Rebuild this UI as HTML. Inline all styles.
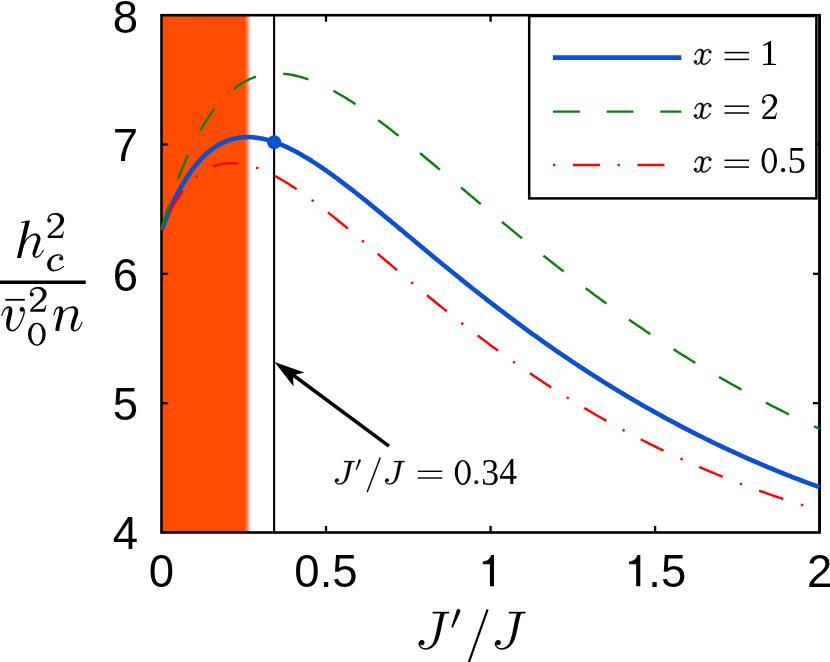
<!DOCTYPE html>
<html><head><meta charset="utf-8"><title>chart</title>
<style>
html,body{margin:0;padding:0;background:#fff;}
body{width:830px;height:662px;overflow:hidden;font-family:"Liberation Sans",sans-serif;}
svg{display:block;will-change:transform}
.ss{font-family:"Liberation Sans",sans-serif;font-size:45.5px;fill:#000}
.it{font-family:"Liberation Serif",serif;font-style:italic;fill:#000}
.rm{font-family:"Liberation Serif",serif;font-style:normal;fill:#000}
</style></head><body>
<svg width="830" height="662" viewBox="0 0 830 662">
<defs>
<linearGradient id="og" x1="0" x2="1" y1="0" y2="0">
<stop offset="0" stop-color="#ff4d00"/><stop offset="1" stop-color="#ff4d00" stop-opacity="0"/>
</linearGradient>
<clipPath id="cp"><rect x="160.4" y="15.2" width="660.4" height="517.3"/></clipPath>
</defs>
<rect width="830" height="662" fill="#fff"/>
<!-- shaded region -->
<rect x="161.5" y="15.2" width="84.1" height="517.3" fill="#ff4d00"/>
<rect x="245.4" y="15.2" width="5.4" height="517.3" fill="url(#og)"/>
<line x1="274.1" y1="15.2" x2="274.1" y2="532.5" stroke="#000" stroke-width="2.1"/>
<!-- axes -->
<g stroke="#000" stroke-width="2.3"><line x1="326.0" y1="532.5" x2="326.0" y2="525.9"/><line x1="326.0" y1="15.2" x2="326.0" y2="21.8"/><line x1="490.6" y1="532.5" x2="490.6" y2="525.9"/><line x1="490.6" y1="15.2" x2="490.6" y2="21.8"/><line x1="655.1" y1="532.5" x2="655.1" y2="525.9"/><line x1="655.1" y1="15.2" x2="655.1" y2="21.8"/><line x1="161.5" y1="403.2" x2="168.1" y2="403.2"/><line x1="819.6" y1="403.2" x2="813.0" y2="403.2"/><line x1="161.5" y1="273.8" x2="168.1" y2="273.8"/><line x1="819.6" y1="273.8" x2="813.0" y2="273.8"/><line x1="161.5" y1="144.5" x2="168.1" y2="144.5"/><line x1="819.6" y1="144.5" x2="813.0" y2="144.5"/></g>
<rect x="161.5" y="15.2" width="658.1" height="517.3" fill="none" stroke="#000" stroke-width="2.6"/>
<!-- legend -->
<rect x="529.2" y="16.0" width="287.2" height="182.4" fill="#fff" stroke="#000" stroke-width="2.5"/>
<line x1="819.6" y1="15.2" x2="819.6" y2="532.5" stroke="#000" stroke-width="2.6"/>
<line x1="552.9" y1="57.6" x2="681.4" y2="57.6" stroke="#0a50d2" stroke-width="4.7"/>
<line x1="552.9" y1="111.6" x2="681.4" y2="111.6" stroke="#0a800a" stroke-width="2.4" stroke-dasharray="27 26.7"/>
<line x1="553.0" y1="165.0" x2="681.4" y2="165.0" stroke="#ff0000" stroke-width="2.4" stroke-dasharray="2.4 17.6 27 17.5"/>
<!-- curves -->
<g fill="none" clip-path="url(#cp)">
<path d="M161.50,230.28 L161.53,230.19 L161.60,230.02 L161.68,229.79 L161.79,229.50 L161.92,229.17 L162.06,228.80 L162.21,228.38 L162.38,227.94 L162.57,227.46 L162.76,226.95 L162.97,226.40 L163.19,225.83 L163.42,225.24 L163.66,224.62 L163.92,223.97 L164.18,223.30 L164.45,222.61 L164.73,221.90 L165.03,221.17 L165.33,220.42 L165.64,219.65 L165.96,218.87 L166.29,218.07 L166.62,217.25 L166.97,216.42 L167.32,215.57 L167.69,214.71 L168.06,213.84 L168.44,212.95 L168.82,212.05 L169.22,211.15 L169.62,210.23 L170.03,209.30 L170.45,208.36 L170.87,207.42 L171.30,206.47 L171.74,205.50 L172.19,204.54 L172.64,203.57 L173.10,202.59 L173.57,201.60 L174.05,200.61 L174.53,199.62 L175.02,198.63 L175.51,197.63 L176.01,196.63 L176.52,195.62 L177.04,194.62 L177.56,193.61 L178.08,192.60 L178.62,191.60 L179.16,190.59 L179.70,189.58 L180.26,188.58 L180.82,187.58 L181.38,186.57 L181.95,185.57 L182.53,184.58 L183.11,183.58 L183.70,182.59 L184.30,181.61 L184.90,180.62 L185.50,179.65 L186.12,178.67 L186.73,177.71 L187.36,176.75 L187.99,175.79 L188.62,174.84 L189.26,173.90 L189.91,172.96 L190.56,172.03 L191.22,171.11 L191.88,170.20 L192.55,169.29 L193.23,168.40 L193.91,167.51 L194.59,166.63 L195.28,165.76 L195.98,164.90 L196.68,164.05 L197.38,163.21 L198.10,162.38 L198.81,161.56 L199.53,160.75 L200.26,159.95 L200.99,159.16 L201.73,158.39 L202.47,157.62 L203.22,156.87 L203.97,156.13 L204.73,155.40 L205.49,154.69 L206.26,153.98 L207.03,153.29 L207.81,152.61 L208.59,151.95 L209.38,151.30 L210.17,150.66 L210.97,150.03 L211.77,149.42 L212.58,148.82 L213.39,148.24 L214.21,147.67 L215.03,147.12 L215.85,146.57 L216.68,146.05 L217.52,145.54 L218.36,145.04 L219.20,144.55 L220.05,144.09 L220.91,143.63 L221.77,143.19 L222.63,142.77 L223.50,142.36 L224.37,141.97 L225.25,141.59 L226.13,141.22 L227.02,140.87 L227.91,140.54 L228.80,140.22 L229.70,139.92 L230.60,139.63 L231.51,139.36 L232.43,139.11 L233.34,138.87 L234.27,138.64 L235.19,138.43 L236.12,138.24 L237.06,138.06 L238.00,137.90 L238.94,137.75 L239.89,137.62 L240.84,137.50 L241.80,137.40 L242.76,137.32 L243.72,137.25 L244.69,137.19 L245.67,137.16 L246.64,137.13 L247.63,137.13 L248.61,137.13 L249.60,137.16 L250.60,137.19 L251.60,137.25 L252.60,137.32 L253.61,137.40 L254.62,137.50 L255.63,137.61 L256.65,137.74 L257.68,137.89 L258.71,138.05 L259.74,138.22 L260.77,138.41 L261.81,138.61 L262.86,138.83 L263.91,139.06 L264.96,139.31 L266.02,139.57 L267.08,139.85 L268.14,140.14 L269.21,140.44 L270.28,140.76 L271.36,141.09 L272.44,141.44 L273.52,141.80 L274.61,142.17 L275.70,142.56 L276.80,142.96 L277.90,143.38 L279.00,143.81 L280.11,144.25 L281.22,144.70 L282.34,145.17 L283.46,145.65 L284.58,146.14 L285.71,146.65 L286.84,147.17 L287.97,147.70 L289.11,148.24 L290.26,148.80 L291.40,149.37 L292.55,149.95 L293.71,150.54 L294.86,151.15 L296.03,151.76 L297.19,152.39 L298.36,153.03 L299.53,153.68 L300.71,154.35 L301.89,155.02 L303.07,155.71 L304.26,156.40 L305.45,157.11 L306.65,157.83 L307.85,158.56 L309.05,159.30 L310.26,160.05 L311.47,160.81 L312.68,161.58 L313.90,162.36 L315.12,163.15 L316.34,163.95 L317.57,164.76 L318.80,165.58 L320.04,166.41 L321.28,167.25 L322.52,168.10 L323.77,168.95 L325.02,169.82 L326.27,170.70 L327.53,171.58 L328.79,172.47 L330.05,173.37 L331.32,174.28 L332.59,175.20 L333.87,176.13 L335.15,177.06 L336.43,178.01 L337.71,178.96 L339.00,179.92 L340.30,180.88 L341.59,181.86 L342.89,182.84 L344.20,183.83 L345.50,184.82 L346.81,185.83 L348.13,186.84 L349.44,187.85 L350.76,188.88 L352.09,189.91 L353.42,190.94 L354.75,191.99 L356.08,193.04 L357.42,194.09 L358.76,195.16 L360.11,196.23 L361.45,197.30 L362.80,198.38 L364.16,199.47 L365.52,200.56 L366.88,201.65 L368.25,202.76 L369.61,203.86 L370.99,204.98 L372.36,206.09 L373.74,207.22 L375.12,208.35 L376.51,209.48 L377.90,210.62 L379.29,211.76 L380.68,212.90 L382.08,214.06 L383.49,215.21 L384.89,216.37 L386.30,217.53 L387.71,218.70 L389.13,219.87 L390.55,221.05 L391.97,222.23 L393.39,223.41 L394.82,224.60 L396.25,225.79 L397.69,226.98 L399.13,228.18 L400.57,229.38 L402.01,230.58 L403.46,231.78 L404.91,232.99 L406.37,234.20 L407.83,235.42 L409.29,236.64 L410.75,237.86 L412.22,239.08 L413.69,240.30 L415.17,241.53 L416.64,242.76 L418.12,243.99 L419.61,245.23 L421.10,246.46 L422.59,247.70 L424.08,248.94 L425.58,250.18 L427.08,251.42 L428.58,252.67 L430.09,253.92 L431.60,255.16 L433.11,256.41 L434.62,257.67 L436.14,258.92 L437.66,260.17 L439.19,261.43 L440.72,262.68 L442.25,263.94 L443.78,265.20 L445.32,266.46 L446.86,267.72 L448.41,268.98 L449.95,270.24 L451.50,271.50 L453.06,272.76 L454.61,274.03 L456.17,275.29 L457.74,276.56 L459.30,277.82 L460.87,279.09 L462.44,280.35 L464.02,281.62 L465.60,282.88 L467.18,284.15 L468.76,285.41 L470.35,286.68 L471.94,287.94 L473.53,289.21 L475.13,290.47 L476.73,291.74 L478.33,293.00 L479.94,294.27 L481.55,295.53 L483.16,296.79 L484.77,298.06 L486.39,299.32 L488.01,300.58 L489.64,301.84 L491.26,303.10 L492.89,304.36 L494.53,305.62 L496.16,306.88 L497.80,308.14 L499.44,309.39 L501.09,310.65 L502.74,311.90 L504.39,313.16 L506.04,314.41 L507.70,315.66 L509.36,316.91 L511.02,318.16 L512.69,319.41 L514.36,320.65 L516.03,321.90 L517.70,323.14 L519.38,324.38 L521.06,325.62 L522.74,326.86 L524.43,328.10 L526.12,329.34 L527.81,330.57 L529.51,331.80 L531.21,333.04 L532.91,334.26 L534.61,335.49 L536.32,336.72 L538.03,337.94 L539.74,339.17 L541.46,340.39 L543.18,341.60 L544.90,342.82 L546.62,344.04 L548.35,345.25 L550.08,346.46 L551.81,347.67 L553.55,348.88 L555.29,350.08 L557.03,351.28 L558.78,352.48 L560.52,353.68 L562.28,354.88 L564.03,356.07 L565.78,357.26 L567.54,358.45 L569.31,359.64 L571.07,360.83 L572.84,362.01 L574.61,363.19 L576.38,364.37 L578.16,365.54 L579.94,366.71 L581.72,367.88 L583.51,369.05 L585.29,370.22 L587.08,371.38 L588.88,372.54 L590.67,373.70 L592.47,374.85 L594.27,376.00 L596.08,377.15 L597.89,378.30 L599.70,379.45 L601.51,380.59 L603.33,381.73 L605.14,382.86 L606.97,384.00 L608.79,385.13 L610.62,386.25 L612.45,387.38 L614.28,388.50 L616.11,389.62 L617.95,390.74 L619.79,391.85 L621.64,392.96 L623.48,394.07 L625.33,395.17 L627.19,396.28 L629.04,397.38 L630.90,398.47 L632.76,399.56 L634.62,400.65 L636.49,401.74 L638.36,402.82 L640.23,403.91 L642.10,404.98 L643.98,406.06 L645.86,407.13 L647.74,408.20 L649.63,409.26 L651.51,410.33 L653.40,411.38 L655.30,412.44 L657.19,413.49 L659.09,414.54 L660.99,415.59 L662.90,416.63 L664.80,417.67 L666.71,418.71 L668.63,419.74 L670.54,420.77 L672.46,421.80 L674.38,422.82 L676.30,423.84 L678.23,424.86 L680.16,425.87 L682.09,426.88 L684.02,427.89 L685.96,428.89 L687.90,429.89 L689.84,430.89 L691.79,431.88 L693.73,432.87 L695.68,433.86 L697.64,434.84 L699.59,435.82 L701.55,436.80 L703.51,437.77 L705.47,438.74 L707.44,439.71 L709.41,440.67 L711.38,441.63 L713.35,442.59 L715.33,443.54 L717.31,444.49 L719.29,445.43 L721.27,446.37 L723.26,447.31 L725.25,448.24 L727.24,449.17 L729.24,450.10 L731.24,451.03 L733.24,451.95 L735.24,452.86 L737.25,453.77 L739.25,454.68 L741.27,455.59 L743.28,456.49 L745.30,457.39 L747.31,458.28 L749.34,459.17 L751.36,460.06 L753.39,460.95 L755.42,461.83 L757.45,462.70 L759.48,463.57 L761.52,464.44 L763.56,465.31 L765.60,466.17 L767.64,467.03 L769.69,467.88 L771.74,468.73 L773.79,469.58 L775.85,470.42 L777.91,471.26 L779.97,472.09 L782.03,472.92 L784.10,473.75 L786.16,474.58 L788.23,475.39 L790.31,476.21 L792.38,477.02 L794.46,477.83 L796.54,478.63 L798.63,479.44 L800.71,480.23 L802.80,481.02 L804.89,481.81 L806.98,482.60 L809.08,483.38 L811.18,484.16 L813.28,484.93 L815.38,485.70 L817.49,486.46 L819.60,487.22" stroke="#0a50d2" stroke-width="4.6" stroke-linejoin="round"/>
<path d="M161.50,229.33 L161.53,229.22 L161.60,229.00 L161.68,228.70 L161.79,228.33 L161.92,227.90 L162.06,227.42 L162.21,226.89 L162.38,226.31 L162.57,225.69 L162.76,225.03 L162.97,224.32 L163.19,223.59 L163.42,222.81 L163.66,222.00 L163.92,221.16 L164.18,220.29 L164.45,219.39 L164.73,218.47 L165.03,217.51 L165.33,216.53 L165.64,215.52 L165.96,214.49 L166.29,213.44 L166.62,212.36 L166.97,211.27 L167.32,210.15 L167.69,209.01 L168.06,207.85 L168.44,206.68 L168.82,205.49 L169.22,204.28 L169.62,203.06 L170.03,201.82 L170.45,200.56 L170.87,199.30 L171.30,198.02 L171.74,196.72 L172.19,195.42 L172.64,194.11 L173.10,192.78 L173.57,191.44 L174.05,190.10 L174.53,188.74 L175.02,187.38 L175.51,186.01 L176.01,184.64 L176.52,183.25 L177.04,181.87 L177.56,180.47 L178.08,179.07 L178.62,177.67 L179.16,176.26 L179.70,174.85 L180.26,173.44 L180.82,172.03 L181.38,170.61 L181.95,169.19 L182.53,167.77 L183.11,166.35 L183.70,164.93 L184.30,163.51 L184.90,162.09 L185.50,160.68 L186.12,159.26 L186.73,157.85 L187.36,156.44 L187.99,155.03 L188.62,153.63 L189.26,152.23 L189.91,150.83 L190.56,149.44 L191.22,148.06 L191.88,146.68 L192.55,145.30 L193.23,143.93 L193.91,142.57 L194.59,141.21 L195.28,139.86 L195.98,138.52 L196.68,137.19 L197.38,135.86 L198.10,134.54 L198.81,133.24 L199.53,131.94 L200.26,130.64 L200.99,129.36 L201.73,128.09 L202.47,126.83 L203.22,125.58 L203.97,124.34 L204.73,123.11 L205.49,121.89 L206.26,120.68 L207.03,119.49 L207.81,118.31 L208.59,117.13 L209.38,115.98 L210.17,114.83 L210.97,113.70 L211.77,112.57 L212.58,111.47 L213.39,110.37 L214.21,109.29 L215.03,108.22 L215.85,107.17 L216.68,106.13 L217.52,105.11 L218.36,104.10 L219.20,103.10 L220.05,102.12 L220.91,101.15 L221.77,100.20 L222.63,99.27 L223.50,98.35 L224.37,97.44 L225.25,96.55 L226.13,95.68 L227.02,94.82 L227.91,93.98 L228.80,93.15 L229.70,92.34 L230.60,91.55 L231.51,90.77 L232.43,90.01 L233.34,89.27 L234.27,88.54 L235.19,87.83 L236.12,87.13 L237.06,86.46 L238.00,85.79 L238.94,85.15 L239.89,84.52 L240.84,83.91 L241.80,83.32 L242.76,82.75 L243.72,82.19 L244.69,81.65 L245.67,81.12 L246.64,80.62 L247.63,80.13 L248.61,79.65 L249.60,79.20 L250.60,78.76 L251.60,78.34 L252.60,77.94 L253.61,77.55 L254.62,77.18 L255.63,76.83 L256.65,76.50 L257.68,76.18 L258.71,75.89 L259.74,75.60 L260.77,75.34 L261.81,75.09 L262.86,74.86 L263.91,74.65 L264.96,74.46 L266.02,74.28 L267.08,74.12 L268.14,73.97 L269.21,73.85 L270.28,73.74 L271.36,73.64 L272.44,73.57 L273.52,73.51 L274.61,73.47 L275.70,73.44 L276.80,73.43 L277.90,73.44 L279.00,73.46 L280.11,73.50 L281.22,73.56 L282.34,73.63 L283.46,73.72 L284.58,73.83 L285.71,73.95 L286.84,74.09 L287.97,74.25 L289.11,74.42 L290.26,74.60 L291.40,74.80 L292.55,75.02 L293.71,75.25 L294.86,75.50 L296.03,75.77 L297.19,76.05 L298.36,76.34 L299.53,76.65 L300.71,76.97 L301.89,77.31 L303.07,77.67 L304.26,78.04 L305.45,78.42 L306.65,78.82 L307.85,79.23 L309.05,79.66 L310.26,80.10 L311.47,80.56 L312.68,81.03 L313.90,81.51 L315.12,82.01 L316.34,82.52 L317.57,83.04 L318.80,83.58 L320.04,84.13 L321.28,84.70 L322.52,85.28 L323.77,85.87 L325.02,86.47 L326.27,87.09 L327.53,87.72 L328.79,88.36 L330.05,89.01 L331.32,89.68 L332.59,90.36 L333.87,91.05 L335.15,91.75 L336.43,92.47 L337.71,93.20 L339.00,93.94 L340.30,94.69 L341.59,95.45 L342.89,96.22 L344.20,97.00 L345.50,97.80 L346.81,98.61 L348.13,99.42 L349.44,100.25 L350.76,101.09 L352.09,101.94 L353.42,102.80 L354.75,103.67 L356.08,104.55 L357.42,105.44 L358.76,106.34 L360.11,107.25 L361.45,108.17 L362.80,109.10 L364.16,110.04 L365.52,110.98 L366.88,111.94 L368.25,112.91 L369.61,113.88 L370.99,114.87 L372.36,115.86 L373.74,116.86 L375.12,117.87 L376.51,118.89 L377.90,119.91 L379.29,120.95 L380.68,121.99 L382.08,123.04 L383.49,124.10 L384.89,125.17 L386.30,126.24 L387.71,127.32 L389.13,128.41 L390.55,129.51 L391.97,130.61 L393.39,131.72 L394.82,132.84 L396.25,133.96 L397.69,135.09 L399.13,136.23 L400.57,137.38 L402.01,138.53 L403.46,139.68 L404.91,140.85 L406.37,142.02 L407.83,143.19 L409.29,144.37 L410.75,145.56 L412.22,146.75 L413.69,147.95 L415.17,149.15 L416.64,150.36 L418.12,151.58 L419.61,152.80 L421.10,154.02 L422.59,155.25 L424.08,156.48 L425.58,157.72 L427.08,158.97 L428.58,160.22 L430.09,161.47 L431.60,162.73 L433.11,163.99 L434.62,165.25 L436.14,166.52 L437.66,167.80 L439.19,169.08 L440.72,170.36 L442.25,171.64 L443.78,172.93 L445.32,174.23 L446.86,175.52 L448.41,176.82 L449.95,178.13 L451.50,179.43 L453.06,180.74 L454.61,182.05 L456.17,183.37 L457.74,184.69 L459.30,186.01 L460.87,187.33 L462.44,188.66 L464.02,189.99 L465.60,191.32 L467.18,192.66 L468.76,193.99 L470.35,195.33 L471.94,196.67 L473.53,198.01 L475.13,199.36 L476.73,200.71 L478.33,202.06 L479.94,203.41 L481.55,204.76 L483.16,206.11 L484.77,207.47 L486.39,208.83 L488.01,210.18 L489.64,211.54 L491.26,212.91 L492.89,214.27 L494.53,215.63 L496.16,217.00 L497.80,218.36 L499.44,219.73 L501.09,221.10 L502.74,222.46 L504.39,223.83 L506.04,225.20 L507.70,226.57 L509.36,227.94 L511.02,229.32 L512.69,230.69 L514.36,232.06 L516.03,233.43 L517.70,234.81 L519.38,236.18 L521.06,237.55 L522.74,238.93 L524.43,240.30 L526.12,241.67 L527.81,243.05 L529.51,244.42 L531.21,245.79 L532.91,247.16 L534.61,248.54 L536.32,249.91 L538.03,251.28 L539.74,252.65 L541.46,254.02 L543.18,255.39 L544.90,256.76 L546.62,258.13 L548.35,259.50 L550.08,260.86 L551.81,262.23 L553.55,263.60 L555.29,264.96 L557.03,266.33 L558.78,267.69 L560.52,269.05 L562.28,270.41 L564.03,271.77 L565.78,273.13 L567.54,274.48 L569.31,275.84 L571.07,277.19 L572.84,278.55 L574.61,279.90 L576.38,281.25 L578.16,282.60 L579.94,283.95 L581.72,285.29 L583.51,286.63 L585.29,287.98 L587.08,289.32 L588.88,290.66 L590.67,291.99 L592.47,293.33 L594.27,294.66 L596.08,295.99 L597.89,297.32 L599.70,298.65 L601.51,299.98 L603.33,301.30 L605.14,302.62 L606.97,303.94 L608.79,305.26 L610.62,306.58 L612.45,307.89 L614.28,309.20 L616.11,310.51 L617.95,311.82 L619.79,313.12 L621.64,314.42 L623.48,315.72 L625.33,317.02 L627.19,318.31 L629.04,319.61 L630.90,320.90 L632.76,322.18 L634.62,323.47 L636.49,324.75 L638.36,326.03 L640.23,327.31 L642.10,328.58 L643.98,329.85 L645.86,331.12 L647.74,332.39 L649.63,333.65 L651.51,334.91 L653.40,336.17 L655.30,337.42 L657.19,338.68 L659.09,339.92 L660.99,341.17 L662.90,342.41 L664.80,343.65 L666.71,344.89 L668.63,346.13 L670.54,347.36 L672.46,348.59 L674.38,349.81 L676.30,351.03 L678.23,352.25 L680.16,353.47 L682.09,354.68 L684.02,355.89 L685.96,357.10 L687.90,358.30 L689.84,359.50 L691.79,360.70 L693.73,361.89 L695.68,363.08 L697.64,364.27 L699.59,365.45 L701.55,366.63 L703.51,367.81 L705.47,368.98 L707.44,370.15 L709.41,371.32 L711.38,372.48 L713.35,373.64 L715.33,374.80 L717.31,375.95 L719.29,377.10 L721.27,378.24 L723.26,379.39 L725.25,380.53 L727.24,381.66 L729.24,382.79 L731.24,383.92 L733.24,385.05 L735.24,386.17 L737.25,387.28 L739.25,388.40 L741.27,389.51 L743.28,390.61 L745.30,391.72 L747.31,392.81 L749.34,393.91 L751.36,395.00 L753.39,396.09 L755.42,397.17 L757.45,398.25 L759.48,399.33 L761.52,400.40 L763.56,401.47 L765.60,402.53 L767.64,403.60 L769.69,404.65 L771.74,405.71 L773.79,406.76 L775.85,407.80 L777.91,408.84 L779.97,409.88 L782.03,410.91 L784.10,411.95 L786.16,412.97 L788.23,413.99 L790.31,415.01 L792.38,416.03 L794.46,417.04 L796.54,418.04 L798.63,419.04 L800.71,420.04 L802.80,421.04 L804.89,422.03 L806.98,423.01 L809.08,424.00 L811.18,424.97 L813.28,425.95 L815.38,426.92 L817.49,427.88 L819.60,428.85" stroke="#0a800a" stroke-width="2.4" stroke-dasharray="25.8 27.63" stroke-dashoffset="0.5"/>
<path d="M161.50,228.92 L161.53,228.85 L161.60,228.70 L161.68,228.50 L161.79,228.26 L161.92,227.97 L162.06,227.66 L162.21,227.31 L162.38,226.93 L162.57,226.52 L162.76,226.08 L162.97,225.62 L163.19,225.14 L163.42,224.64 L163.66,224.11 L163.92,223.57 L164.18,223.00 L164.45,222.42 L164.73,221.82 L165.03,221.21 L165.33,220.58 L165.64,219.93 L165.96,219.28 L166.29,218.60 L166.62,217.92 L166.97,217.23 L167.32,216.52 L167.69,215.80 L168.06,215.08 L168.44,214.35 L168.82,213.60 L169.22,212.85 L169.62,212.10 L170.03,211.33 L170.45,210.56 L170.87,209.79 L171.30,209.01 L171.74,208.22 L172.19,207.43 L172.64,206.64 L173.10,205.85 L173.57,205.05 L174.05,204.25 L174.53,203.45 L175.02,202.65 L175.51,201.85 L176.01,201.05 L176.52,200.25 L177.04,199.45 L177.56,198.65 L178.08,197.85 L178.62,197.05 L179.16,196.26 L179.70,195.47 L180.26,194.69 L180.82,193.90 L181.38,193.12 L181.95,192.35 L182.53,191.58 L183.11,190.81 L183.70,190.05 L184.30,189.30 L184.90,188.55 L185.50,187.81 L186.12,187.07 L186.73,186.35 L187.36,185.63 L187.99,184.91 L188.62,184.21 L189.26,183.51 L189.91,182.82 L190.56,182.14 L191.22,181.47 L191.88,180.81 L192.55,180.15 L193.23,179.51 L193.91,178.88 L194.59,178.25 L195.28,177.64 L195.98,177.04 L196.68,176.45 L197.38,175.87 L198.10,175.30 L198.81,174.74 L199.53,174.19 L200.26,173.66 L200.99,173.13 L201.73,172.62 L202.47,172.12 L203.22,171.64 L203.97,171.16 L204.73,170.70 L205.49,170.25 L206.26,169.82 L207.03,169.39 L207.81,168.98 L208.59,168.59 L209.38,168.20 L210.17,167.83 L210.97,167.48 L211.77,167.13 L212.58,166.80 L213.39,166.49 L214.21,166.19 L215.03,165.90 L215.85,165.63 L216.68,165.37 L217.52,165.12 L218.36,164.89 L219.20,164.68 L220.05,164.47 L220.91,164.29 L221.77,164.11 L222.63,163.95 L223.50,163.81 L224.37,163.68 L225.25,163.56 L226.13,163.46 L227.02,163.38 L227.91,163.31 L228.80,163.25 L229.70,163.21 L230.60,163.18 L231.51,163.16 L232.43,163.16 L233.34,163.18 L234.27,163.21 L235.19,163.26 L236.12,163.31 L237.06,163.39 L238.00,163.48 L238.94,163.58 L239.89,163.70 L240.84,163.83 L241.80,163.97 L242.76,164.13 L243.72,164.31 L244.69,164.50 L245.67,164.70 L246.64,164.92 L247.63,165.15 L248.61,165.39 L249.60,165.65 L250.60,165.92 L251.60,166.21 L252.60,166.51 L253.61,166.82 L254.62,167.15 L255.63,167.49 L256.65,167.84 L257.68,168.21 L258.71,168.59 L259.74,168.98 L260.77,169.39 L261.81,169.81 L262.86,170.24 L263.91,170.69 L264.96,171.15 L266.02,171.62 L267.08,172.10 L268.14,172.60 L269.21,173.11 L270.28,173.63 L271.36,174.16 L272.44,174.71 L273.52,175.27 L274.61,175.84 L275.70,176.42 L276.80,177.01 L277.90,177.62 L279.00,178.23 L280.11,178.86 L281.22,179.50 L282.34,180.15 L283.46,180.81 L284.58,181.48 L285.71,182.17 L286.84,182.86 L287.97,183.56 L289.11,184.28 L290.26,185.00 L291.40,185.74 L292.55,186.49 L293.71,187.24 L294.86,188.01 L296.03,188.79 L297.19,189.57 L298.36,190.37 L299.53,191.17 L300.71,191.99 L301.89,192.81 L303.07,193.64 L304.26,194.49 L305.45,195.34 L306.65,196.20 L307.85,197.07 L309.05,197.94 L310.26,198.83 L311.47,199.72 L312.68,200.63 L313.90,201.54 L315.12,202.46 L316.34,203.38 L317.57,204.32 L318.80,205.26 L320.04,206.21 L321.28,207.17 L322.52,208.13 L323.77,209.11 L325.02,210.09 L326.27,211.07 L327.53,212.07 L328.79,213.07 L330.05,214.07 L331.32,215.09 L332.59,216.11 L333.87,217.14 L335.15,218.17 L336.43,219.21 L337.71,220.25 L339.00,221.30 L340.30,222.36 L341.59,223.42 L342.89,224.49 L344.20,225.57 L345.50,226.65 L346.81,227.73 L348.13,228.82 L349.44,229.92 L350.76,231.02 L352.09,232.12 L353.42,233.23 L354.75,234.35 L356.08,235.47 L357.42,236.59 L358.76,237.72 L360.11,238.85 L361.45,239.99 L362.80,241.13 L364.16,242.27 L365.52,243.42 L366.88,244.58 L368.25,245.73 L369.61,246.89 L370.99,248.06 L372.36,249.22 L373.74,250.39 L375.12,251.57 L376.51,252.75 L377.90,253.93 L379.29,255.11 L380.68,256.30 L382.08,257.48 L383.49,258.68 L384.89,259.87 L386.30,261.07 L387.71,262.27 L389.13,263.47 L390.55,264.67 L391.97,265.88 L393.39,267.09 L394.82,268.30 L396.25,269.51 L397.69,270.73 L399.13,271.94 L400.57,273.16 L402.01,274.38 L403.46,275.60 L404.91,276.82 L406.37,278.05 L407.83,279.28 L409.29,280.50 L410.75,281.73 L412.22,282.96 L413.69,284.19 L415.17,285.42 L416.64,286.66 L418.12,287.89 L419.61,289.12 L421.10,290.36 L422.59,291.59 L424.08,292.83 L425.58,294.07 L427.08,295.30 L428.58,296.54 L430.09,297.78 L431.60,299.02 L433.11,300.26 L434.62,301.49 L436.14,302.73 L437.66,303.97 L439.19,305.21 L440.72,306.45 L442.25,307.69 L443.78,308.93 L445.32,310.16 L446.86,311.40 L448.41,312.64 L449.95,313.88 L451.50,315.11 L453.06,316.35 L454.61,317.58 L456.17,318.82 L457.74,320.05 L459.30,321.28 L460.87,322.52 L462.44,323.75 L464.02,324.98 L465.60,326.21 L467.18,327.44 L468.76,328.66 L470.35,329.89 L471.94,331.12 L473.53,332.34 L475.13,333.56 L476.73,334.78 L478.33,336.00 L479.94,337.22 L481.55,338.44 L483.16,339.66 L484.77,340.87 L486.39,342.08 L488.01,343.29 L489.64,344.50 L491.26,345.71 L492.89,346.92 L494.53,348.12 L496.16,349.33 L497.80,350.53 L499.44,351.72 L501.09,352.92 L502.74,354.12 L504.39,355.31 L506.04,356.50 L507.70,357.69 L509.36,358.88 L511.02,360.06 L512.69,361.24 L514.36,362.42 L516.03,363.60 L517.70,364.78 L519.38,365.95 L521.06,367.12 L522.74,368.29 L524.43,369.46 L526.12,370.62 L527.81,371.79 L529.51,372.95 L531.21,374.10 L532.91,375.26 L534.61,376.41 L536.32,377.56 L538.03,378.70 L539.74,379.85 L541.46,380.99 L543.18,382.13 L544.90,383.26 L546.62,384.40 L548.35,385.53 L550.08,386.65 L551.81,387.78 L553.55,388.90 L555.29,390.02 L557.03,391.14 L558.78,392.25 L560.52,393.36 L562.28,394.47 L564.03,395.57 L565.78,396.67 L567.54,397.77 L569.31,398.87 L571.07,399.96 L572.84,401.05 L574.61,402.14 L576.38,403.22 L578.16,404.30 L579.94,405.38 L581.72,406.45 L583.51,407.52 L585.29,408.59 L587.08,409.65 L588.88,410.71 L590.67,411.77 L592.47,412.82 L594.27,413.87 L596.08,414.92 L597.89,415.97 L599.70,417.01 L601.51,418.05 L603.33,419.08 L605.14,420.11 L606.97,421.14 L608.79,422.16 L610.62,423.18 L612.45,424.20 L614.28,425.21 L616.11,426.23 L617.95,427.23 L619.79,428.24 L621.64,429.24 L623.48,430.23 L625.33,431.23 L627.19,432.21 L629.04,433.20 L630.90,434.18 L632.76,435.16 L634.62,436.14 L636.49,437.11 L638.36,438.08 L640.23,439.04 L642.10,440.00 L643.98,440.96 L645.86,441.91 L647.74,442.86 L649.63,443.81 L651.51,444.75 L653.40,445.69 L655.30,446.63 L657.19,447.56 L659.09,448.49 L660.99,449.41 L662.90,450.33 L664.80,451.25 L666.71,452.16 L668.63,453.07 L670.54,453.97 L672.46,454.88 L674.38,455.77 L676.30,456.67 L678.23,457.56 L680.16,458.45 L682.09,459.33 L684.02,460.21 L685.96,461.08 L687.90,461.96 L689.84,462.82 L691.79,463.69 L693.73,464.55 L695.68,465.40 L697.64,466.26 L699.59,467.11 L701.55,467.95 L703.51,468.79 L705.47,469.63 L707.44,470.46 L709.41,471.29 L711.38,472.12 L713.35,472.94 L715.33,473.76 L717.31,474.57 L719.29,475.38 L721.27,476.19 L723.26,476.99 L725.25,477.79 L727.24,478.58 L729.24,479.38 L731.24,480.16 L733.24,480.95 L735.24,481.73 L737.25,482.50 L739.25,483.27 L741.27,484.04 L743.28,484.80 L745.30,485.56 L747.31,486.32 L749.34,487.07 L751.36,487.82 L753.39,488.56 L755.42,489.30 L757.45,490.04 L759.48,490.77 L761.52,491.50 L763.56,492.23 L765.60,492.95 L767.64,493.66 L769.69,494.38 L771.74,495.08 L773.79,495.79 L775.85,496.49 L777.91,497.19 L779.97,497.88 L782.03,498.57 L784.10,499.26 L786.16,499.94 L788.23,500.61 L790.31,501.29 L792.38,501.96 L794.46,502.62 L796.54,503.28 L798.63,503.94 L800.71,504.60 L802.80,505.25 L804.89,505.89 L806.98,506.53 L809.08,507.17 L811.18,507.81 L813.28,508.44 L815.38,509.06 L817.49,509.69 L819.60,510.30" stroke="#ff0000" stroke-width="2.4" stroke-dasharray="2.4 18.1 25.6 18.47" stroke-dashoffset="2.3"/>
</g>
<circle cx="274.1" cy="142.2" r="7" fill="#0a50d2"/>
<rect x="160.6" y="227.5" width="2.4" height="2.4" fill="#ff0000"/>
<g fill="#000"><g transform="matrix(1.0000 0 0 0.9645 0.10 1.93)" stroke="#000" stroke-width="0.3" stroke-linejoin="round"><circle cx="709.9" cy="51.8" r="1.5"/><circle cx="695.3" cy="62.0" r="1.6"/><path d="M695.54,54.69 L695.77,53.88 L696.12,53.03 L696.58,52.19 L697.15,51.42 L697.81,50.79 L698.55,50.36 L699.33,50.16 L700.15,50.23 L700.86,50.57 L701.27,50.98 L701.43,51.44 L701.48,52.15 L701.43,53.05 L701.34,54.01 L701.21,54.93 L701.03,55.83 L700.83,56.71 L700.60,57.61 L700.35,58.54 L700.14,59.55 L700.03,60.65 L700.10,61.83 L700.45,63.02 L701.13,64.09 L702.11,64.88 L703.29,65.21 L704.45,65.10 L705.53,64.76 L706.50,64.30 L707.36,63.73 L708.14,63.07 L708.82,62.33 L709.44,61.54 L709.99,60.70 L710.49,59.82 L709.71,59.38 L709.21,60.20 L708.67,60.98 L708.08,61.69 L707.45,62.34 L706.75,62.90 L705.99,63.37 L705.14,63.74 L704.23,63.98 L703.40,64.00 L702.82,63.76 L702.44,63.20 L702.24,62.42 L702.16,61.63 L702.23,60.84 L702.42,60.03 L702.66,59.15 L702.92,58.23 L703.16,57.29 L703.38,56.33 L703.57,55.34 L703.72,54.30 L703.82,53.20 L703.79,52.00 L703.48,50.76 L702.74,49.63 L701.58,48.95 L700.32,48.77 L699.10,48.90 L698.03,49.32 L697.13,49.97 L696.37,50.77 L695.75,51.68 L695.27,52.64 L694.90,53.60 L694.66,54.51Z"/><circle cx="695.10" cy="54.60" r="0.45"/><circle cx="710.10" cy="59.60" r="0.45"/><path d="M703.34,54.10 L703.39,53.90 L703.46,53.70 L703.54,53.49 L703.63,53.28 L703.73,53.07 L703.85,52.86 L703.97,52.65 L704.10,52.43 L704.24,52.23 L704.39,52.02 L704.54,51.82 L704.71,51.63 L704.88,51.44 L705.05,51.25 L705.23,51.08 L705.42,50.92 L705.61,50.76 L705.81,50.62 L706.00,50.49 L706.21,50.37 L706.41,50.27 L706.61,50.18 L706.82,50.10 L707.02,50.04 L707.23,50.00 L707.43,49.98 L707.64,49.97 L707.84,49.97 L708.04,50.00 L708.25,50.04 L708.45,50.11 L708.66,50.19 L708.87,50.30 L709.07,50.43 L709.28,50.59 L709.92,49.81 L709.64,49.61 L709.36,49.43 L709.08,49.28 L708.79,49.17 L708.50,49.08 L708.21,49.01 L707.92,48.98 L707.63,48.97 L707.34,48.98 L707.06,49.02 L706.78,49.07 L706.51,49.15 L706.24,49.25 L705.98,49.36 L705.73,49.49 L705.48,49.64 L705.24,49.80 L705.00,49.97 L704.78,50.15 L704.56,50.34 L704.35,50.55 L704.14,50.76 L703.95,50.98 L703.76,51.20 L703.59,51.43 L703.42,51.67 L703.27,51.91 L703.13,52.16 L702.99,52.41 L702.87,52.66 L702.77,52.91 L702.67,53.16 L702.59,53.41 L702.52,53.66 L702.46,53.90Z"/><path d="M700.95,59.58 L700.93,59.76 L700.90,59.94 L700.85,60.14 L700.79,60.35 L700.71,60.56 L700.63,60.78 L700.53,61.00 L700.41,61.23 L700.29,61.45 L700.16,61.68 L700.02,61.90 L699.87,62.12 L699.71,62.33 L699.54,62.53 L699.37,62.73 L699.19,62.92 L699.01,63.09 L698.82,63.26 L698.63,63.41 L698.43,63.55 L698.24,63.67 L698.04,63.77 L697.84,63.86 L697.65,63.92 L697.45,63.97 L697.26,64.00 L697.08,64.01 L696.89,64.00 L696.71,63.97 L696.52,63.92 L696.34,63.85 L696.15,63.74 L695.96,63.62 L695.76,63.45 L695.57,63.26 L694.83,63.94 L695.09,64.19 L695.36,64.42 L695.63,64.60 L695.91,64.75 L696.20,64.87 L696.49,64.95 L696.79,65.00 L697.08,65.01 L697.37,65.00 L697.66,64.95 L697.93,64.88 L698.21,64.79 L698.47,64.67 L698.73,64.54 L698.98,64.38 L699.22,64.21 L699.46,64.03 L699.68,63.83 L699.90,63.62 L700.11,63.40 L700.31,63.17 L700.50,62.94 L700.68,62.69 L700.85,62.44 L701.01,62.19 L701.15,61.93 L701.29,61.67 L701.41,61.40 L701.51,61.14 L701.61,60.88 L701.69,60.62 L701.75,60.36 L701.80,60.11 L701.84,59.86 L701.85,59.62Z"/></g><rect x="724.5" y="51.85" width="24.5" height="1.5"/><rect x="724.5" y="58.65" width="24.5" height="1.5"/><text class="rm" font-size="100" transform="matrix(0.3714 0 0 0.3679 759.76 65.20)">1</text><g transform="matrix(1.0000 0 0 0.9763 0.10 55.25)" stroke="#000" stroke-width="0.3" stroke-linejoin="round"><circle cx="709.9" cy="51.8" r="1.5"/><circle cx="695.3" cy="62.0" r="1.6"/><path d="M695.54,54.69 L695.77,53.88 L696.12,53.03 L696.58,52.19 L697.15,51.42 L697.81,50.79 L698.55,50.36 L699.33,50.16 L700.15,50.23 L700.86,50.57 L701.27,50.98 L701.43,51.44 L701.48,52.15 L701.43,53.05 L701.34,54.01 L701.21,54.93 L701.03,55.83 L700.83,56.71 L700.60,57.61 L700.35,58.54 L700.14,59.55 L700.03,60.65 L700.10,61.83 L700.45,63.02 L701.13,64.09 L702.11,64.88 L703.29,65.21 L704.45,65.10 L705.53,64.76 L706.50,64.30 L707.36,63.73 L708.14,63.07 L708.82,62.33 L709.44,61.54 L709.99,60.70 L710.49,59.82 L709.71,59.38 L709.21,60.20 L708.67,60.98 L708.08,61.69 L707.45,62.34 L706.75,62.90 L705.99,63.37 L705.14,63.74 L704.23,63.98 L703.40,64.00 L702.82,63.76 L702.44,63.20 L702.24,62.42 L702.16,61.63 L702.23,60.84 L702.42,60.03 L702.66,59.15 L702.92,58.23 L703.16,57.29 L703.38,56.33 L703.57,55.34 L703.72,54.30 L703.82,53.20 L703.79,52.00 L703.48,50.76 L702.74,49.63 L701.58,48.95 L700.32,48.77 L699.10,48.90 L698.03,49.32 L697.13,49.97 L696.37,50.77 L695.75,51.68 L695.27,52.64 L694.90,53.60 L694.66,54.51Z"/><circle cx="695.10" cy="54.60" r="0.45"/><circle cx="710.10" cy="59.60" r="0.45"/><path d="M703.34,54.10 L703.39,53.90 L703.46,53.70 L703.54,53.49 L703.63,53.28 L703.73,53.07 L703.85,52.86 L703.97,52.65 L704.10,52.43 L704.24,52.23 L704.39,52.02 L704.54,51.82 L704.71,51.63 L704.88,51.44 L705.05,51.25 L705.23,51.08 L705.42,50.92 L705.61,50.76 L705.81,50.62 L706.00,50.49 L706.21,50.37 L706.41,50.27 L706.61,50.18 L706.82,50.10 L707.02,50.04 L707.23,50.00 L707.43,49.98 L707.64,49.97 L707.84,49.97 L708.04,50.00 L708.25,50.04 L708.45,50.11 L708.66,50.19 L708.87,50.30 L709.07,50.43 L709.28,50.59 L709.92,49.81 L709.64,49.61 L709.36,49.43 L709.08,49.28 L708.79,49.17 L708.50,49.08 L708.21,49.01 L707.92,48.98 L707.63,48.97 L707.34,48.98 L707.06,49.02 L706.78,49.07 L706.51,49.15 L706.24,49.25 L705.98,49.36 L705.73,49.49 L705.48,49.64 L705.24,49.80 L705.00,49.97 L704.78,50.15 L704.56,50.34 L704.35,50.55 L704.14,50.76 L703.95,50.98 L703.76,51.20 L703.59,51.43 L703.42,51.67 L703.27,51.91 L703.13,52.16 L702.99,52.41 L702.87,52.66 L702.77,52.91 L702.67,53.16 L702.59,53.41 L702.52,53.66 L702.46,53.90Z"/><path d="M700.95,59.58 L700.93,59.76 L700.90,59.94 L700.85,60.14 L700.79,60.35 L700.71,60.56 L700.63,60.78 L700.53,61.00 L700.41,61.23 L700.29,61.45 L700.16,61.68 L700.02,61.90 L699.87,62.12 L699.71,62.33 L699.54,62.53 L699.37,62.73 L699.19,62.92 L699.01,63.09 L698.82,63.26 L698.63,63.41 L698.43,63.55 L698.24,63.67 L698.04,63.77 L697.84,63.86 L697.65,63.92 L697.45,63.97 L697.26,64.00 L697.08,64.01 L696.89,64.00 L696.71,63.97 L696.52,63.92 L696.34,63.85 L696.15,63.74 L695.96,63.62 L695.76,63.45 L695.57,63.26 L694.83,63.94 L695.09,64.19 L695.36,64.42 L695.63,64.60 L695.91,64.75 L696.20,64.87 L696.49,64.95 L696.79,65.00 L697.08,65.01 L697.37,65.00 L697.66,64.95 L697.93,64.88 L698.21,64.79 L698.47,64.67 L698.73,64.54 L698.98,64.38 L699.22,64.21 L699.46,64.03 L699.68,63.83 L699.90,63.62 L700.11,63.40 L700.31,63.17 L700.50,62.94 L700.68,62.69 L700.85,62.44 L701.01,62.19 L701.15,61.93 L701.29,61.67 L701.41,61.40 L701.51,61.14 L701.61,60.88 L701.69,60.62 L701.75,60.36 L701.80,60.11 L701.84,59.86 L701.85,59.62Z"/></g><rect x="724.5" y="105.45" width="24.5" height="1.5"/><rect x="724.5" y="112.25" width="24.5" height="1.5"/><g transform="matrix(0.8994 0 0 0.9918 719.44 -117.06)"><circle cx="49.3" cy="220.6" r="2.0"/><path d="M48.65,219.96 L48.73,218.86 L49.07,217.81 L49.65,216.84 L50.41,216.03 L51.31,215.42 L52.31,215.01 L53.41,214.79 L54.57,214.74 L55.74,214.85 L56.83,215.16 L57.79,215.63 L58.59,216.23 L59.25,216.94 L59.72,217.78 L60.02,218.62 L60.19,219.38 L60.24,220.16 L60.14,221.06 L59.87,222.03 L59.46,222.99 L58.96,223.95 L58.37,224.89 L57.68,225.82 L56.90,226.72 L56.07,227.59 L55.20,228.44 L54.32,229.29 L53.42,230.13 L52.51,230.98 L51.61,231.83 L50.71,232.70 L49.84,233.60 L48.98,234.53 L48.15,235.50 L47.36,236.52 L48.64,237.48 L49.40,236.56 L50.21,235.67 L51.07,234.83 L51.95,234.01 L52.86,233.22 L53.80,232.44 L54.75,231.67 L55.72,230.91 L56.69,230.14 L57.67,229.36 L58.64,228.55 L59.63,227.72 L60.62,226.84 L61.56,225.85 L62.42,224.73 L63.16,223.45 L63.74,222.03 L64.07,220.46 L64.04,218.78 L63.52,217.16 L62.60,215.78 L61.43,214.68 L60.11,213.84 L58.70,213.32 L57.28,213.08 L55.89,213.02 L54.52,213.07 L53.16,213.25 L51.84,213.60 L50.60,214.20 L49.51,215.05 L48.62,216.12 L47.98,217.34 L47.60,218.66 L47.55,220.04Z"/><path d="M47.3,238.1 L62.5,238.1 L63.9,231.6 L62.9,231.6 C62.5,234.2 61.8,235.3 60.0,235.4 L50.2,235.5 Z"/></g><g transform="matrix(1.0000 0 0 0.9822 0.10 108.56)" stroke="#000" stroke-width="0.3" stroke-linejoin="round"><circle cx="709.9" cy="51.8" r="1.5"/><circle cx="695.3" cy="62.0" r="1.6"/><path d="M695.54,54.69 L695.77,53.88 L696.12,53.03 L696.58,52.19 L697.15,51.42 L697.81,50.79 L698.55,50.36 L699.33,50.16 L700.15,50.23 L700.86,50.57 L701.27,50.98 L701.43,51.44 L701.48,52.15 L701.43,53.05 L701.34,54.01 L701.21,54.93 L701.03,55.83 L700.83,56.71 L700.60,57.61 L700.35,58.54 L700.14,59.55 L700.03,60.65 L700.10,61.83 L700.45,63.02 L701.13,64.09 L702.11,64.88 L703.29,65.21 L704.45,65.10 L705.53,64.76 L706.50,64.30 L707.36,63.73 L708.14,63.07 L708.82,62.33 L709.44,61.54 L709.99,60.70 L710.49,59.82 L709.71,59.38 L709.21,60.20 L708.67,60.98 L708.08,61.69 L707.45,62.34 L706.75,62.90 L705.99,63.37 L705.14,63.74 L704.23,63.98 L703.40,64.00 L702.82,63.76 L702.44,63.20 L702.24,62.42 L702.16,61.63 L702.23,60.84 L702.42,60.03 L702.66,59.15 L702.92,58.23 L703.16,57.29 L703.38,56.33 L703.57,55.34 L703.72,54.30 L703.82,53.20 L703.79,52.00 L703.48,50.76 L702.74,49.63 L701.58,48.95 L700.32,48.77 L699.10,48.90 L698.03,49.32 L697.13,49.97 L696.37,50.77 L695.75,51.68 L695.27,52.64 L694.90,53.60 L694.66,54.51Z"/><circle cx="695.10" cy="54.60" r="0.45"/><circle cx="710.10" cy="59.60" r="0.45"/><path d="M703.34,54.10 L703.39,53.90 L703.46,53.70 L703.54,53.49 L703.63,53.28 L703.73,53.07 L703.85,52.86 L703.97,52.65 L704.10,52.43 L704.24,52.23 L704.39,52.02 L704.54,51.82 L704.71,51.63 L704.88,51.44 L705.05,51.25 L705.23,51.08 L705.42,50.92 L705.61,50.76 L705.81,50.62 L706.00,50.49 L706.21,50.37 L706.41,50.27 L706.61,50.18 L706.82,50.10 L707.02,50.04 L707.23,50.00 L707.43,49.98 L707.64,49.97 L707.84,49.97 L708.04,50.00 L708.25,50.04 L708.45,50.11 L708.66,50.19 L708.87,50.30 L709.07,50.43 L709.28,50.59 L709.92,49.81 L709.64,49.61 L709.36,49.43 L709.08,49.28 L708.79,49.17 L708.50,49.08 L708.21,49.01 L707.92,48.98 L707.63,48.97 L707.34,48.98 L707.06,49.02 L706.78,49.07 L706.51,49.15 L706.24,49.25 L705.98,49.36 L705.73,49.49 L705.48,49.64 L705.24,49.80 L705.00,49.97 L704.78,50.15 L704.56,50.34 L704.35,50.55 L704.14,50.76 L703.95,50.98 L703.76,51.20 L703.59,51.43 L703.42,51.67 L703.27,51.91 L703.13,52.16 L702.99,52.41 L702.87,52.66 L702.77,52.91 L702.67,53.16 L702.59,53.41 L702.52,53.66 L702.46,53.90Z"/><path d="M700.95,59.58 L700.93,59.76 L700.90,59.94 L700.85,60.14 L700.79,60.35 L700.71,60.56 L700.63,60.78 L700.53,61.00 L700.41,61.23 L700.29,61.45 L700.16,61.68 L700.02,61.90 L699.87,62.12 L699.71,62.33 L699.54,62.53 L699.37,62.73 L699.19,62.92 L699.01,63.09 L698.82,63.26 L698.63,63.41 L698.43,63.55 L698.24,63.67 L698.04,63.77 L697.84,63.86 L697.65,63.92 L697.45,63.97 L697.26,64.00 L697.08,64.01 L696.89,64.00 L696.71,63.97 L696.52,63.92 L696.34,63.85 L696.15,63.74 L695.96,63.62 L695.76,63.45 L695.57,63.26 L694.83,63.94 L695.09,64.19 L695.36,64.42 L695.63,64.60 L695.91,64.75 L696.20,64.87 L696.49,64.95 L696.79,65.00 L697.08,65.01 L697.37,65.00 L697.66,64.95 L697.93,64.88 L698.21,64.79 L698.47,64.67 L698.73,64.54 L698.98,64.38 L699.22,64.21 L699.46,64.03 L699.68,63.83 L699.90,63.62 L700.11,63.40 L700.31,63.17 L700.50,62.94 L700.68,62.69 L700.85,62.44 L701.01,62.19 L701.15,61.93 L701.29,61.67 L701.41,61.40 L701.51,61.14 L701.61,60.88 L701.69,60.62 L701.75,60.36 L701.80,60.11 L701.84,59.86 L701.85,59.62Z"/></g><rect x="724.5" y="159.55" width="24.5" height="1.5"/><rect x="724.5" y="166.35" width="24.5" height="1.5"/><g transform="matrix(0.8757 0 0 1.1000 736.98 -206.97)"><path fill-rule="evenodd" d="M28.0,334.2 A8.85,11.5 0 1 0 45.7,334.2 A8.85,11.5 0 1 0 28.0,334.2 Z M31.3,334.2 A5.55,10.2 0 1 0 42.4,334.2 A5.55,10.2 0 1 0 31.3,334.2 Z"/></g><circle cx="783.1" cy="170.2" r="2.1"/><text class="rm" font-size="100" transform="matrix(0.3700 0 0 0.3789 787.48 173.02)">5</text></g>
<!-- arrow + annotation -->
<line x1="389" y1="446.1" x2="288" y2="371.3" stroke="#000" stroke-width="3.6"/>
<path d="M274.5,361.9 L304.4,372.5 L292.9,375.2 L293.6,386.5 Z" fill="#000"/>
<g fill="#000"><g transform="matrix(0.6442 0 0 0.6176 65.32 83.21)" stroke="#000" stroke-width="0.55" stroke-linejoin="round"><circle cx="421.9" cy="642.6" r="2.6"/><rect x="432.6" y="611.8" width="16.6" height="1.7"/><path d="M440.97,611.91 L440.45,613.44 L439.99,614.96 L439.57,616.48 L439.18,618.01 L438.83,619.53 L438.50,621.05 L438.18,622.56 L437.88,624.07 L437.59,625.57 L437.30,627.07 L437.01,628.55 L436.72,630.03 L436.42,631.50 L436.10,632.96 L435.75,634.41 L435.39,635.85 L434.98,637.28 L434.56,638.70 L434.15,640.10 L433.70,641.45 L433.17,642.74 L432.48,643.94 L431.64,645.03 L430.64,646.02 L429.51,646.85 L428.26,647.51 L426.93,647.96 L425.54,648.15 L424.15,648.04 L422.82,647.65 L421.63,646.94 L420.65,645.95 L420.02,644.77 L419.84,643.55 L420.21,642.35 L418.99,641.65 L418.45,643.46 L418.70,645.23 L419.53,646.79 L420.76,648.05 L422.24,648.94 L423.86,649.47 L425.55,649.66 L427.23,649.55 L428.87,649.18 L430.44,648.56 L431.91,647.73 L433.26,646.72 L434.49,645.55 L435.58,644.26 L436.54,642.88 L437.37,641.44 L438.07,639.95 L438.63,638.45 L439.12,636.93 L439.57,635.42 L439.98,633.90 L440.35,632.39 L440.70,630.87 L441.02,629.36 L441.32,627.85 L441.62,626.35 L441.91,624.86 L442.20,623.37 L442.51,621.90 L442.83,620.43 L443.17,618.98 L443.53,617.53 L443.93,616.10 L444.36,614.69 L444.83,613.29Z"/></g><g transform="matrix(0.5368 0 0 0.5661 113.57 114.62)" stroke="#000" stroke-width="0.3" stroke-linejoin="round"><path d="M456.70,610.20 L456.56,610.66 L456.42,611.13 L456.28,611.59 L456.14,612.06 L456.00,612.53 L455.85,612.99 L455.71,613.46 L455.56,613.92 L455.41,614.39 L455.26,614.86 L455.10,615.33 L454.95,615.79 L454.80,616.26 L454.64,616.73 L454.49,617.20 L454.34,617.67 L454.18,618.14 L454.03,618.61 L453.88,619.09 L453.72,619.56 L453.57,620.03 L453.42,620.51 L453.27,620.98 L453.12,621.46 L452.97,621.93 L452.82,622.41 L452.67,622.89 L452.52,623.36 L452.38,623.84 L452.23,624.32 L452.09,624.80 L451.95,625.28 L451.81,625.77 L451.68,626.25 L451.55,626.73 L453.05,627.27 L453.26,626.82 L453.46,626.37 L453.67,625.92 L453.87,625.47 L454.08,625.03 L454.29,624.58 L454.50,624.13 L454.72,623.69 L454.93,623.24 L455.14,622.80 L455.36,622.35 L455.58,621.90 L455.79,621.46 L456.01,621.01 L456.23,620.57 L456.44,620.12 L456.66,619.67 L456.88,619.23 L457.09,618.78 L457.31,618.33 L457.52,617.88 L457.73,617.42 L457.94,616.97 L458.15,616.51 L458.36,616.06 L458.56,615.60 L458.77,615.14 L458.97,614.68 L459.17,614.22 L459.36,613.75 L459.56,613.29 L459.75,612.82 L459.93,612.35 L460.12,611.88 L460.30,611.40Z"/><circle cx="458.50" cy="610.80" r="1.90"/><circle cx="452.30" cy="627.00" r="0.80"/></g><line x1="367.1" y1="492.3" x2="380.3" y2="457.5" stroke="#000" stroke-width="1.45"/><g transform="matrix(0.6314 0 0 0.6176 120.88 83.21)" stroke="#000" stroke-width="0.55" stroke-linejoin="round"><circle cx="421.9" cy="642.6" r="2.6"/><rect x="432.6" y="611.8" width="16.6" height="1.7"/><path d="M440.97,611.91 L440.45,613.44 L439.99,614.96 L439.57,616.48 L439.18,618.01 L438.83,619.53 L438.50,621.05 L438.18,622.56 L437.88,624.07 L437.59,625.57 L437.30,627.07 L437.01,628.55 L436.72,630.03 L436.42,631.50 L436.10,632.96 L435.75,634.41 L435.39,635.85 L434.98,637.28 L434.56,638.70 L434.15,640.10 L433.70,641.45 L433.17,642.74 L432.48,643.94 L431.64,645.03 L430.64,646.02 L429.51,646.85 L428.26,647.51 L426.93,647.96 L425.54,648.15 L424.15,648.04 L422.82,647.65 L421.63,646.94 L420.65,645.95 L420.02,644.77 L419.84,643.55 L420.21,642.35 L418.99,641.65 L418.45,643.46 L418.70,645.23 L419.53,646.79 L420.76,648.05 L422.24,648.94 L423.86,649.47 L425.55,649.66 L427.23,649.55 L428.87,649.18 L430.44,648.56 L431.91,647.73 L433.26,646.72 L434.49,645.55 L435.58,644.26 L436.54,642.88 L437.37,641.44 L438.07,639.95 L438.63,638.45 L439.12,636.93 L439.57,635.42 L439.98,633.90 L440.35,632.39 L440.70,630.87 L441.02,629.36 L441.32,627.85 L441.62,626.35 L441.91,624.86 L442.20,623.37 L442.51,621.90 L442.83,620.43 L443.17,618.98 L443.53,617.53 L443.93,616.10 L444.36,614.69 L444.83,613.29Z"/></g><rect x="417.8" y="470.60" width="24.5" height="1.4"/><rect x="417.8" y="477.30" width="24.5" height="1.4"/><g transform="matrix(0.9040 0 0 1.0913 429.49 107.74)"><path fill-rule="evenodd" d="M28.0,334.2 A8.85,11.5 0 1 0 45.7,334.2 A8.85,11.5 0 1 0 28.0,334.2 Z M31.3,334.2 A5.55,10.2 0 1 0 42.4,334.2 A5.55,10.2 0 1 0 31.3,334.2 Z"/></g><circle cx="476.3" cy="482.2" r="1.95"/><text class="rm" font-size="100" transform="matrix(0.3585 0 0 0.3746 481.21 484.63)">3</text><text class="rm" font-size="100" transform="matrix(0.3548 0 0 0.3738 499.19 484.39)">4</text></g>
<!-- tick labels -->
<g class="ss"><text x="138" y="32.9" text-anchor="end">8</text><text x="138" y="161.3" text-anchor="end">7</text><text x="138" y="290.6" text-anchor="end">6</text><text x="138" y="420.0" text-anchor="end">5</text><text x="138" y="549.3" text-anchor="end">4</text><text x="161.5" y="586.6" text-anchor="middle">0</text><text x="326.0" y="586.6" text-anchor="middle">0.5</text><path transform="translate(0.0 0)" d="M489.9,586.3 L494,586.3 L494,554.9 L491.1,554.9 C490.2,558.6 487.6,560.9 482.8,561.4 L482.8,564.2 L489.9,564.2 Z" fill="#000"/><path transform="translate(146.3 0)" d="M489.9,586.3 L494,586.3 L494,554.9 L491.1,554.9 C490.2,558.6 487.6,560.9 482.8,561.4 L482.8,564.2 L489.9,564.2 Z" fill="#000"/><text x="648.3" y="586.6">.5</text><text x="819.6" y="586.6" text-anchor="middle">2</text></g>
<!-- y label -->
<g fill="#000"><path d="M25.6,221.1 L29.9,220.6 L20.9,257.9 L17.0,257.9 Z"/><path d="M21.42,223.19 L21.60,223.15 L21.78,223.12 L21.96,223.08 L22.14,223.05 L22.32,223.01 L22.50,222.97 L22.67,222.94 L22.85,222.90 L23.03,222.87 L23.21,222.83 L23.39,222.79 L23.57,222.76 L23.75,222.72 L23.92,222.68 L24.10,222.65 L24.28,222.61 L24.46,222.57 L24.64,222.54 L24.82,222.50 L24.99,222.46 L25.17,222.42 L25.35,222.38 L25.53,222.35 L25.71,222.31 L25.88,222.27 L26.06,222.23 L26.24,222.19 L26.42,222.15 L26.60,222.12 L26.77,222.08 L26.95,222.04 L27.13,222.00 L27.31,221.96 L27.49,221.92 L27.66,221.88 L27.34,220.52 L27.16,220.56 L26.99,220.61 L26.81,220.65 L26.63,220.70 L26.46,220.74 L26.28,220.79 L26.11,220.83 L25.93,220.88 L25.76,220.92 L25.58,220.96 L25.41,221.01 L25.23,221.05 L25.05,221.10 L24.88,221.14 L24.70,221.18 L24.53,221.22 L24.35,221.27 L24.17,221.31 L24.00,221.35 L23.82,221.40 L23.65,221.44 L23.47,221.48 L23.29,221.52 L23.12,221.56 L22.94,221.60 L22.76,221.65 L22.59,221.69 L22.41,221.73 L22.24,221.77 L22.06,221.81 L21.88,221.85 L21.71,221.89 L21.53,221.93 L21.35,221.97 L21.18,222.01Z"/><path d="M23.12,247.67 L23.65,246.17 L24.24,244.69 L24.89,243.26 L25.63,241.88 L26.45,240.58 L27.37,239.37 L28.40,238.27 L29.55,237.28 L30.84,236.42 L32.27,235.72 L33.79,235.33 L35.11,235.41 L35.97,235.92 L36.56,236.89 L36.89,237.97 L36.98,238.97 L36.77,240.14 L36.29,241.51 L35.66,243.02 L35.04,244.60 L34.51,246.14 L34.03,247.65 L33.57,249.15 L33.09,250.65 L32.61,252.32 L32.48,254.36 L33.27,256.46 L35.02,257.80 L37.05,257.82 L38.75,256.93 L40.13,255.82 L41.26,254.60 L42.20,253.29 L43.00,251.89 L43.75,250.43 L42.85,249.97 L42.08,251.38 L41.28,252.69 L40.39,253.88 L39.35,254.96 L38.08,255.92 L36.69,256.55 L35.72,256.41 L35.19,255.41 L35.22,254.40 L35.67,253.27 L36.30,251.81 L36.88,250.25 L37.40,248.75 L37.90,247.28 L38.42,245.84 L38.98,244.40 L39.63,242.83 L40.22,241.08 L40.52,239.11 L40.24,236.98 L39.10,235.07 L37.34,233.76 L35.29,233.30 L33.39,233.68 L31.69,234.42 L30.15,235.28 L28.76,236.27 L27.53,237.38 L26.44,238.60 L25.47,239.92 L24.62,241.31 L23.87,242.76 L23.20,244.26 L22.61,245.78 L22.08,247.33Z"/><circle cx="22.60" cy="247.50" r="0.55"/><circle cx="43.30" cy="250.20" r="0.50"/><g transform="matrix(1.0000 0 0 1.0000 0.00 0.00)"><circle cx="49.3" cy="220.6" r="2.0"/><path d="M48.65,219.96 L48.73,218.86 L49.07,217.81 L49.65,216.84 L50.41,216.03 L51.31,215.42 L52.31,215.01 L53.41,214.79 L54.57,214.74 L55.74,214.85 L56.83,215.16 L57.79,215.63 L58.59,216.23 L59.25,216.94 L59.72,217.78 L60.02,218.62 L60.19,219.38 L60.24,220.16 L60.14,221.06 L59.87,222.03 L59.46,222.99 L58.96,223.95 L58.37,224.89 L57.68,225.82 L56.90,226.72 L56.07,227.59 L55.20,228.44 L54.32,229.29 L53.42,230.13 L52.51,230.98 L51.61,231.83 L50.71,232.70 L49.84,233.60 L48.98,234.53 L48.15,235.50 L47.36,236.52 L48.64,237.48 L49.40,236.56 L50.21,235.67 L51.07,234.83 L51.95,234.01 L52.86,233.22 L53.80,232.44 L54.75,231.67 L55.72,230.91 L56.69,230.14 L57.67,229.36 L58.64,228.55 L59.63,227.72 L60.62,226.84 L61.56,225.85 L62.42,224.73 L63.16,223.45 L63.74,222.03 L64.07,220.46 L64.04,218.78 L63.52,217.16 L62.60,215.78 L61.43,214.68 L60.11,213.84 L58.70,213.32 L57.28,213.08 L55.89,213.02 L54.52,213.07 L53.16,213.25 L51.84,213.60 L50.60,214.20 L49.51,215.05 L48.62,216.12 L47.98,217.34 L47.60,218.66 L47.55,220.04Z"/><path d="M47.3,238.1 L62.5,238.1 L63.9,231.6 L62.9,231.6 C62.5,234.2 61.8,235.3 60.0,235.4 L50.2,235.5 Z"/></g><circle cx="61.2" cy="258.4" r="2.1"/><path d="M62.67,256.42 L61.91,255.20 L60.85,254.51 L59.65,254.23 L58.42,254.22 L57.24,254.33 L56.09,254.52 L54.95,254.82 L53.84,255.23 L52.75,255.76 L51.69,256.40 L50.69,257.16 L49.77,258.05 L48.98,259.05 L48.30,260.15 L47.74,261.33 L47.35,262.58 L47.15,263.89 L47.18,265.24 L47.44,266.60 L47.95,267.91 L48.72,269.12 L49.76,270.09 L50.97,270.80 L52.25,271.24 L53.54,271.40 L54.79,271.31 L55.98,271.05 L57.11,270.72 L58.20,270.34 L59.25,269.91 L60.26,269.41 L61.24,268.86 L62.18,268.23 L63.08,267.54 L63.94,266.76 L63.26,266.04 L62.43,266.74 L61.58,267.37 L60.68,267.92 L59.76,268.41 L58.79,268.83 L57.79,269.19 L56.75,269.49 L55.68,269.73 L54.64,269.84 L53.67,269.79 L52.84,269.53 L52.15,269.00 L51.62,268.26 L51.24,267.47 L50.97,266.69 L50.84,265.87 L50.81,265.02 L50.84,264.14 L50.93,263.25 L51.07,262.35 L51.28,261.45 L51.60,260.56 L52.02,259.69 L52.53,258.85 L53.13,258.05 L53.82,257.34 L54.61,256.74 L55.49,256.28 L56.45,255.93 L57.47,255.66 L58.54,255.47 L59.57,255.40 L60.47,255.54 L61.18,255.95 L61.73,256.78Z"/><circle cx="62.20" cy="256.60" r="0.50"/><circle cx="63.60" cy="266.40" r="0.50"/><rect x="0" y="280.5" width="85.7" height="3.5"/><circle cx="21.9" cy="309.4" r="2.3"/><path d="M2.26,315.60 L2.91,313.95 L3.60,312.24 L4.43,310.64 L5.49,309.33 L6.86,308.48 L8.51,308.36 L8.93,308.78 L8.75,309.55 L8.45,311.36 L8.13,313.23 L7.75,314.93 L7.33,316.57 L6.90,318.26 L6.50,320.07 L6.22,322.01 L6.10,324.06 L6.29,326.23 L7.07,328.39 L8.58,330.21 L10.65,331.23 L12.86,331.43 L14.85,330.76 L16.52,329.56 L17.92,328.16 L19.12,326.67 L20.13,325.09 L21.01,323.46 L21.78,321.78 L22.49,320.07 L23.17,318.34 L23.83,316.58 L24.41,314.76 L24.78,312.89 L24.83,310.96 L24.41,308.99 L23.19,309.41 L23.53,311.07 L23.49,312.74 L23.15,314.43 L22.60,316.14 L21.95,317.87 L21.28,319.59 L20.59,321.26 L19.84,322.88 L19.01,324.44 L18.06,325.91 L16.95,327.30 L15.66,328.57 L14.22,329.55 L12.74,329.95 L11.29,329.57 L10.14,328.57 L9.64,327.37 L9.59,325.91 L9.73,324.25 L9.99,322.56 L10.36,320.89 L10.78,319.23 L11.20,317.56 L11.62,315.83 L12.01,313.96 L12.32,311.87 L12.32,309.42 L11.16,306.86 L8.43,306.24 L6.21,307.10 L4.56,308.41 L3.40,310.04 L2.59,311.82 L1.94,313.60 L1.34,315.20Z"/><circle cx="1.80" cy="315.40" r="0.50"/><circle cx="23.80" cy="309.20" r="0.65"/><rect x="5.4" y="298.9" width="19.4" height="1.8"/><g transform="matrix(1.0000 0 0 0.9837 -17.50 77.49)"><circle cx="49.3" cy="220.6" r="2.0"/><path d="M48.65,219.96 L48.73,218.86 L49.07,217.81 L49.65,216.84 L50.41,216.03 L51.31,215.42 L52.31,215.01 L53.41,214.79 L54.57,214.74 L55.74,214.85 L56.83,215.16 L57.79,215.63 L58.59,216.23 L59.25,216.94 L59.72,217.78 L60.02,218.62 L60.19,219.38 L60.24,220.16 L60.14,221.06 L59.87,222.03 L59.46,222.99 L58.96,223.95 L58.37,224.89 L57.68,225.82 L56.90,226.72 L56.07,227.59 L55.20,228.44 L54.32,229.29 L53.42,230.13 L52.51,230.98 L51.61,231.83 L50.71,232.70 L49.84,233.60 L48.98,234.53 L48.15,235.50 L47.36,236.52 L48.64,237.48 L49.40,236.56 L50.21,235.67 L51.07,234.83 L51.95,234.01 L52.86,233.22 L53.80,232.44 L54.75,231.67 L55.72,230.91 L56.69,230.14 L57.67,229.36 L58.64,228.55 L59.63,227.72 L60.62,226.84 L61.56,225.85 L62.42,224.73 L63.16,223.45 L63.74,222.03 L64.07,220.46 L64.04,218.78 L63.52,217.16 L62.60,215.78 L61.43,214.68 L60.11,213.84 L58.70,213.32 L57.28,213.08 L55.89,213.02 L54.52,213.07 L53.16,213.25 L51.84,213.60 L50.60,214.20 L49.51,215.05 L48.62,216.12 L47.98,217.34 L47.60,218.66 L47.55,220.04Z"/><path d="M47.3,238.1 L62.5,238.1 L63.9,231.6 L62.9,231.6 C62.5,234.2 61.8,235.3 60.0,235.4 L50.2,235.5 Z"/></g><g transform="matrix(1.0000 0 0 1.0000 0.00 0.00)"><path fill-rule="evenodd" d="M28.0,334.2 A8.85,11.5 0 1 0 45.7,334.2 A8.85,11.5 0 1 0 28.0,334.2 Z M31.3,334.2 A5.55,10.2 0 1 0 42.4,334.2 A5.55,10.2 0 1 0 31.3,334.2 Z"/></g><path d="M54.04,315.64 L54.41,314.83 L54.74,313.90 L55.06,312.90 L55.40,311.88 L55.79,310.89 L56.25,309.99 L56.80,309.24 L57.44,308.69 L58.19,308.37 L59.05,308.38 L59.68,308.71 L59.66,308.92 L59.54,309.20 L59.42,309.93 L59.30,310.96 L59.17,312.03 L59.03,313.05 L58.86,314.03 L58.67,314.98 L58.46,315.91 L58.24,316.81 L58.01,317.70 L57.77,318.59 L57.52,319.48 L57.27,320.37 L57.02,321.28 L56.77,322.20 L56.52,323.15 L56.29,324.12 L56.08,325.13 L55.88,326.17 L55.70,327.26 L55.55,328.39 L55.44,329.57 L55.35,330.80 L59.25,331.00 L59.32,329.89 L59.43,328.83 L59.56,327.82 L59.72,326.85 L59.90,325.91 L60.10,324.99 L60.31,324.09 L60.54,323.20 L60.78,322.31 L61.02,321.43 L61.28,320.53 L61.53,319.63 L61.78,318.70 L62.02,317.75 L62.25,316.77 L62.46,315.76 L62.66,314.71 L62.83,313.62 L62.97,312.48 L63.08,311.29 L63.09,309.98 L62.81,308.54 L61.96,307.10 L60.41,306.33 L58.94,306.44 L57.65,306.88 L56.59,307.54 L55.78,308.40 L55.16,309.39 L54.70,310.44 L54.33,311.53 L54.03,312.59 L53.75,313.59 L53.47,314.47 L53.16,315.16Z"/><path d="M60.89,318.09 L61.27,316.59 L61.85,315.14 L62.60,313.77 L63.51,312.49 L64.56,311.33 L65.73,310.31 L67.01,309.45 L68.36,308.78 L69.78,308.33 L71.27,308.15 L72.80,308.35 L73.95,308.97 L74.40,309.63 L74.55,310.60 L74.55,311.91 L74.40,313.27 L74.05,314.63 L73.56,316.04 L72.99,317.52 L72.44,319.08 L71.96,320.65 L71.53,322.24 L71.15,323.87 L70.82,325.55 L70.74,327.52 L71.40,329.63 L73.06,331.15 L75.14,331.53 L76.94,330.81 L78.38,329.70 L79.54,328.45 L80.48,327.07 L81.23,325.62 L81.88,324.11 L82.47,322.58 L81.53,322.22 L80.92,323.72 L80.27,325.16 L79.53,326.51 L78.66,327.74 L77.60,328.83 L76.32,329.74 L75.01,330.14 L74.09,329.69 L73.65,328.65 L73.78,327.63 L74.20,326.29 L74.62,324.71 L75.04,323.17 L75.48,321.69 L75.94,320.25 L76.45,318.83 L77.02,317.35 L77.58,315.73 L78.03,313.96 L78.25,312.02 L78.00,309.91 L76.98,307.89 L75.09,306.59 L73.04,306.35 L71.13,306.50 L69.39,306.90 L67.80,307.54 L66.34,308.37 L64.98,309.38 L63.75,310.53 L62.65,311.81 L61.70,313.21 L60.91,314.71 L60.31,316.28 L59.91,317.91Z"/><circle cx="60.40" cy="318.00" r="0.50"/><circle cx="82.00" cy="322.40" r="0.50"/></g>
<!-- x label -->
<g fill="#000"><circle cx="421.9" cy="642.6" r="2.6"/><rect x="432.6" y="611.8" width="16.6" height="1.7"/><path d="M440.97,611.91 L440.45,613.44 L439.99,614.96 L439.57,616.48 L439.18,618.01 L438.83,619.53 L438.50,621.05 L438.18,622.56 L437.88,624.07 L437.59,625.57 L437.30,627.07 L437.01,628.55 L436.72,630.03 L436.42,631.50 L436.10,632.96 L435.75,634.41 L435.39,635.85 L434.98,637.28 L434.56,638.70 L434.15,640.10 L433.70,641.45 L433.17,642.74 L432.48,643.94 L431.64,645.03 L430.64,646.02 L429.51,646.85 L428.26,647.51 L426.93,647.96 L425.54,648.15 L424.15,648.04 L422.82,647.65 L421.63,646.94 L420.65,645.95 L420.02,644.77 L419.84,643.55 L420.21,642.35 L418.99,641.65 L418.45,643.46 L418.70,645.23 L419.53,646.79 L420.76,648.05 L422.24,648.94 L423.86,649.47 L425.55,649.66 L427.23,649.55 L428.87,649.18 L430.44,648.56 L431.91,647.73 L433.26,646.72 L434.49,645.55 L435.58,644.26 L436.54,642.88 L437.37,641.44 L438.07,639.95 L438.63,638.45 L439.12,636.93 L439.57,635.42 L439.98,633.90 L440.35,632.39 L440.70,630.87 L441.02,629.36 L441.32,627.85 L441.62,626.35 L441.91,624.86 L442.20,623.37 L442.51,621.90 L442.83,620.43 L443.17,618.98 L443.53,617.53 L443.93,616.10 L444.36,614.69 L444.83,613.29Z"/><path d="M456.70,610.20 L456.56,610.66 L456.42,611.13 L456.28,611.59 L456.14,612.06 L456.00,612.53 L455.85,612.99 L455.71,613.46 L455.56,613.92 L455.41,614.39 L455.26,614.86 L455.10,615.33 L454.95,615.79 L454.80,616.26 L454.64,616.73 L454.49,617.20 L454.34,617.67 L454.18,618.14 L454.03,618.61 L453.88,619.09 L453.72,619.56 L453.57,620.03 L453.42,620.51 L453.27,620.98 L453.12,621.46 L452.97,621.93 L452.82,622.41 L452.67,622.89 L452.52,623.36 L452.38,623.84 L452.23,624.32 L452.09,624.80 L451.95,625.28 L451.81,625.77 L451.68,626.25 L451.55,626.73 L453.05,627.27 L453.26,626.82 L453.46,626.37 L453.67,625.92 L453.87,625.47 L454.08,625.03 L454.29,624.58 L454.50,624.13 L454.72,623.69 L454.93,623.24 L455.14,622.80 L455.36,622.35 L455.58,621.90 L455.79,621.46 L456.01,621.01 L456.23,620.57 L456.44,620.12 L456.66,619.67 L456.88,619.23 L457.09,618.78 L457.31,618.33 L457.52,617.88 L457.73,617.42 L457.94,616.97 L458.15,616.51 L458.36,616.06 L458.56,615.60 L458.77,615.14 L458.97,614.68 L459.17,614.22 L459.36,613.75 L459.56,613.29 L459.75,612.82 L459.93,612.35 L460.12,611.88 L460.30,611.40Z"/><circle cx="458.50" cy="610.80" r="1.90"/><circle cx="452.30" cy="627.00" r="0.80"/><line x1="468.6" y1="663" x2="487.6" y2="609.3" stroke="#000" stroke-width="2.2"/><g transform="matrix(1.0000 0 0 1.0000 76.30 0.00)"><circle cx="421.9" cy="642.6" r="2.6"/><rect x="432.6" y="611.8" width="16.6" height="1.7"/><path d="M440.97,611.91 L440.45,613.44 L439.99,614.96 L439.57,616.48 L439.18,618.01 L438.83,619.53 L438.50,621.05 L438.18,622.56 L437.88,624.07 L437.59,625.57 L437.30,627.07 L437.01,628.55 L436.72,630.03 L436.42,631.50 L436.10,632.96 L435.75,634.41 L435.39,635.85 L434.98,637.28 L434.56,638.70 L434.15,640.10 L433.70,641.45 L433.17,642.74 L432.48,643.94 L431.64,645.03 L430.64,646.02 L429.51,646.85 L428.26,647.51 L426.93,647.96 L425.54,648.15 L424.15,648.04 L422.82,647.65 L421.63,646.94 L420.65,645.95 L420.02,644.77 L419.84,643.55 L420.21,642.35 L418.99,641.65 L418.45,643.46 L418.70,645.23 L419.53,646.79 L420.76,648.05 L422.24,648.94 L423.86,649.47 L425.55,649.66 L427.23,649.55 L428.87,649.18 L430.44,648.56 L431.91,647.73 L433.26,646.72 L434.49,645.55 L435.58,644.26 L436.54,642.88 L437.37,641.44 L438.07,639.95 L438.63,638.45 L439.12,636.93 L439.57,635.42 L439.98,633.90 L440.35,632.39 L440.70,630.87 L441.02,629.36 L441.32,627.85 L441.62,626.35 L441.91,624.86 L442.20,623.37 L442.51,621.90 L442.83,620.43 L443.17,618.98 L443.53,617.53 L443.93,616.10 L444.36,614.69 L444.83,613.29Z"/></g></g>
</svg>
</body></html>
